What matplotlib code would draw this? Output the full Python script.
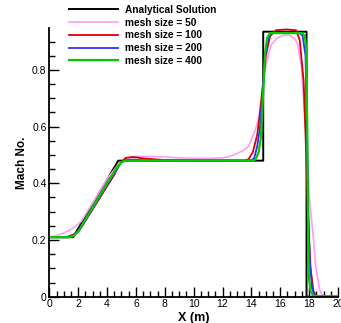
import matplotlib
matplotlib.use("Agg")
import matplotlib.pyplot as plt
from matplotlib.ticker import MultipleLocator, FormatStrFormatter

plt.rcParams['font.family'] = ['Liberation Sans', 'DejaVu Sans']

# solucion analitica
x_ana = [0, 1.65, 4.78, 14.82, 14.82, 17.82, 17.82, 20]
y_ana = [0.21, 0.21, 0.48, 0.48, 0.935, 0.935, 0, 0]

# malla 50
x_50 = [0, 0.5, 1.0, 1.6, 2.2, 3, 4, 4.6, 5.0, 5.5, 6.0, 7, 8, 9, 10, 11, 12, 12.5, 13, 13.4,
        13.8, 14.25, 14.5, 14.7, 14.95, 15.2, 15.4, 15.8, 16.2, 16.6, 17.0, 17.2, 17.47, 17.77,
        18.04, 18.27, 18.46, 18.73, 18.96, 20]
y_50 = [0.21, 0.215, 0.225, 0.24, 0.265, 0.33, 0.415, 0.455, 0.475, 0.49, 0.495, 0.495, 0.493,
        0.49, 0.488, 0.488, 0.49, 0.495, 0.505, 0.515, 0.53, 0.585, 0.63, 0.7, 0.8, 0.86, 0.89,
        0.913, 0.922, 0.923, 0.91, 0.894, 0.81, 0.577, 0.34, 0.22, 0.106, 0.024, 0, 0]

# malla 100
x_100 = [0, 1.2, 1.7, 2.1, 4.5, 4.9, 5.3, 5.8, 6.5, 8, 13.5, 13.8, 14.1, 14.4, 14.6, 14.8, 15.0,
         15.3, 15.7, 16.4, 17.1, 17.35, 17.62, 17.8, 17.95, 18.1, 18.3, 18.5, 20]
y_100 = [0.21, 0.21, 0.22, 0.235, 0.43, 0.47, 0.49, 0.493, 0.488, 0.482, 0.48, 0.485, 0.51, 0.57,
         0.65, 0.75, 0.85, 0.92, 0.94, 0.943, 0.94, 0.905, 0.76, 0.5, 0.25, 0.1, 0.02, 0, 0]

# malla 200
x_200 = [0, 1.3, 1.7, 2.05, 4.55, 4.95, 5.3, 5.8, 6.5, 14.0, 14.2, 14.4, 14.6, 14.77, 14.95, 15.2,
         15.5, 17.3, 17.55, 17.75, 17.85, 17.95, 18.05, 18.2, 18.4, 20]
y_200 = [0.21, 0.21, 0.217, 0.232, 0.44, 0.472, 0.482, 0.484, 0.481, 0.48, 0.49, 0.53, 0.6, 0.72,
         0.85, 0.92, 0.932, 0.932, 0.92, 0.85, 0.6, 0.3, 0.12, 0.03, 0, 0]

# malla 400
x_400 = [0, 1.4, 1.7, 2.0, 4.6, 5.0, 5.3, 6, 14.1, 14.3, 14.5, 14.65, 14.8, 14.95, 15.1, 15.3,
         17.5, 17.7, 17.8, 17.87, 17.93, 18.0, 18.1, 18.3, 20]
y_400 = [0.21, 0.21, 0.215, 0.23, 0.45, 0.475, 0.48, 0.48, 0.48, 0.485, 0.51, 0.56, 0.70, 0.86,
         0.915, 0.93, 0.93, 0.92, 0.88, 0.6, 0.2, 0.06, 0.02, 0.003, 0]

fig = plt.figure(figsize=(3.41, 3.23), dpi=100)
ax = fig.add_axes([49.3/341, 1-296.7/323, (338-49.3)/341, (296.7-28)/323])

l0, = ax.plot(x_ana, y_ana, color='black', lw=1.4)
l1, = ax.plot(x_50, y_50, color='#ff9cf5', lw=1.2)
l2, = ax.plot(x_100, y_100, color='#dd0000', lw=1.3)
l3, = ax.plot(x_200, y_200, color='#3030ff', lw=1.3)
l4, = ax.plot(x_400, y_400, color='#00cc00', lw=1.6)

ax.set_xlim(0, 20)
ax.set_ylim(0, 0.948)
ax.spines['top'].set_visible(False)
ax.spines['right'].set_visible(False)
ax.spines['left'].set_linewidth(1.3)
ax.spines['bottom'].set_linewidth(1.3)

ax.xaxis.set_major_locator(MultipleLocator(2))
ax.xaxis.set_minor_locator(MultipleLocator(0.5))
ax.yaxis.set_major_locator(MultipleLocator(0.2))
ax.yaxis.set_minor_locator(MultipleLocator(0.05))
ax.xaxis.set_major_formatter(FormatStrFormatter('%g'))
ax.yaxis.set_major_formatter(FormatStrFormatter('%g'))
ax.tick_params(which='major', direction='in', length=7, width=1, labelsize=7.5, pad=2)
ax.tick_params(which='minor', direction='in', length=4, width=1)

ax.set_xlabel('X (m)', fontsize=9, fontweight='bold', labelpad=1.5)
ax.set_ylabel('Mach No.', fontsize=8.5, fontweight='bold', labelpad=3)

fig.legend([l0, l1, l2, l3, l4],
           ['Analytical Solution', 'mesh size = 50', 'mesh size = 100',
            'mesh size = 200', 'mesh size = 400'],
           loc='upper left', bbox_to_anchor=(69/341, 1-5/323), frameon=False,
           prop={'size': 7.3, 'weight': 'bold'}, handlelength=4.8, handletextpad=0.75,
           labelspacing=0.27, borderpad=0, borderaxespad=0)

fig.savefig('out.png', dpi=100)
